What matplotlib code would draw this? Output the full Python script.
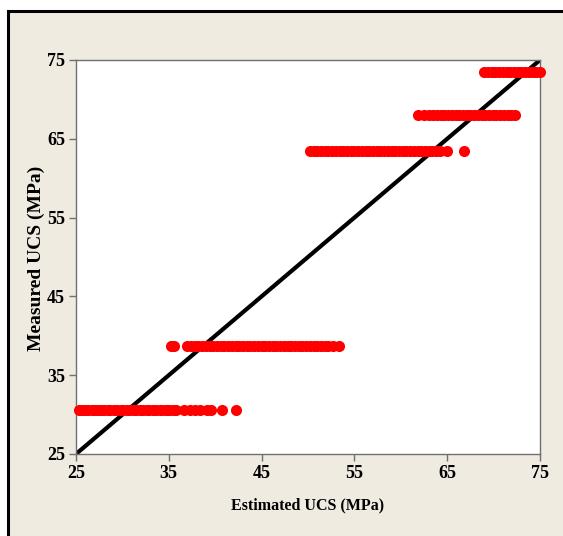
import matplotlib
matplotlib.use("Agg")
import matplotlib.pyplot as plt
from matplotlib.patches import Rectangle

# ---- data ----
level1_y = 30.6
level1_x = [25.3, 25.6, 26.0, 26.3, 26.7, 27.0, 27.4, 27.7, 28.0, 28.4, 28.7, 29.1,
            29.4, 29.8, 30.1, 30.5, 30.8, 31.2, 31.5, 31.9, 32.2, 32.6, 32.9, 33.3,
            33.6, 34.0, 34.3, 34.7, 35.0, 35.4, 35.8, 36.6, 37.3, 37.8, 38.4, 39.1,
            39.5, 40.7, 42.2]
level2_y = 38.7
level2_x = [35.2, 35.6, 37.0, 37.4, 37.8, 38.2, 38.6, 39.0, 39.4, 39.8, 40.2, 40.6,
            41.0, 41.4, 41.8, 42.2, 42.6, 43.0, 43.4, 43.8, 44.2, 44.6, 45.0, 45.4,
            45.8, 46.2, 46.6, 47.0, 47.4, 47.8, 48.2, 48.6, 49.0, 49.4, 49.8, 50.2,
            50.6, 51.0, 51.4, 51.8, 52.2, 52.7, 53.3]
level3_y = 63.5
level3_x = [50.2, 50.6, 51.0, 51.4, 51.8, 52.2, 52.6, 53.0, 53.4, 53.8, 54.2, 54.6,
            55.0, 55.4, 55.8, 56.2, 56.6, 57.0, 57.4, 57.8, 58.2, 58.6, 59.0, 59.4,
            59.8, 60.2, 60.6, 61.0, 61.4, 61.8, 62.2, 62.6, 63.0, 63.4, 63.8, 64.2,
            65.0, 66.8]
level4_y = 68.0
level4_x = [61.9, 62.5, 63.0, 63.5, 63.9, 64.3, 64.7, 65.1, 65.5, 65.9, 66.3, 66.7,
            67.1, 67.5, 67.9, 68.3, 68.7, 69.1, 69.5, 69.9, 70.3, 70.7, 71.1, 71.5,
            71.9, 72.3]
level5_y = 73.5
level5_x = [69.0, 69.4, 69.8, 70.2, 70.6, 71.0, 71.4, 71.8, 72.2, 72.6, 73.0, 73.4,
            73.8, 74.2, 74.6, 75.0]

line_x = [25, 75]
line_y = [25, 75]
ticks = [25, 35, 45, 55, 65, 75]
x_label = "Estimated UCS (MPa)"
y_label = "Measured UCS (MPa)"

# ---- figure ----
W, H = 563, 536
fig = plt.figure(figsize=(W / 100, H / 100), dpi=100, facecolor="white")

bg = "#F0EBE1"
frame = Rectangle((8 / W, -0.05), 1.1, 1 - 11 / H + 0.05, transform=fig.transFigure,
                  facecolor=bg, edgecolor="black", linewidth=2.2, zorder=-5)
fig.patches.append(frame)

ax = fig.add_axes([76 / W, 1 - 454 / H, (540 - 76) / W, (454 - 60) / H])
ax.set_zorder(5)
ax.set_facecolor("white")

ax.plot(line_x, line_y, color="black", linewidth=3, zorder=2, solid_capstyle="butt")

levels = [(level1_x, level1_y), (level2_x, level2_y), (level3_x, level3_y),
          (level4_x, level4_y), (level5_x, level5_y)]
for xs, yv in levels:
    ax.plot(xs, [yv] * len(xs), linestyle="none", marker="o", markersize=8,
            markerfacecolor="#FF0000", markeredgecolor="#FF0000", markeredgewidth=0,
            zorder=3, clip_on=False)

ax.set_xlim(25, 75)
ax.set_ylim(25, 75)
ax.set_xticks(ticks)
ax.set_yticks(ticks)

font = dict(family="Liberation Serif", weight="bold")
ax.set_xticklabels([str(t) for t in ticks], fontsize=13, **font)
ax.set_yticklabels([str(t) for t in ticks], fontsize=13, **font)

for s in ax.spines.values():
    s.set_color("#707070")
    s.set_linewidth(1.0)
ax.tick_params(direction="out", length=5, width=1, color="#707070", pad=3)

fig.text(308 / W, 1 - 505 / H, x_label, fontsize=11.5, ha="center", va="center", **font)
fig.text(36 / W, 1 - 258 / H, y_label, fontsize=14, rotation=90,
         ha="center", va="center", **font)

fig.savefig("out.png", dpi=100, facecolor="white")
